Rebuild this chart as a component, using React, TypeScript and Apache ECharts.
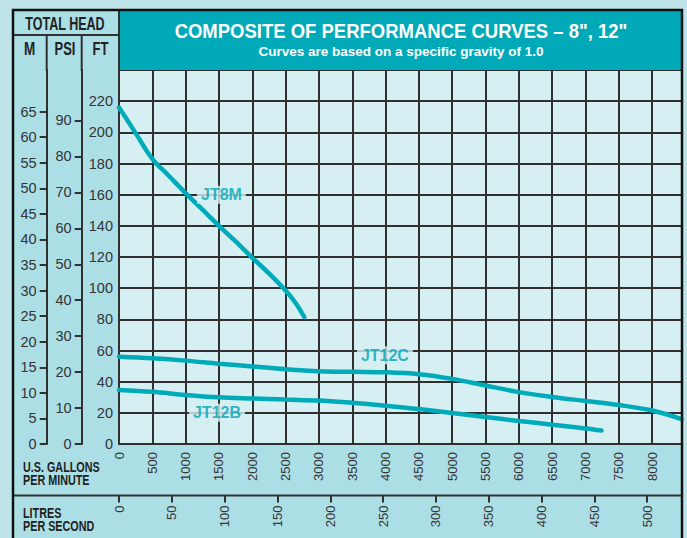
import React, { useEffect, useRef } from "react";
import * as echarts from "echarts";

// ---- data ----
const ftLabels = [0, 20, 40, 60, 80, 100, 120, 140, 160, 180, 200, 220];
const psiLabels = [0, 10, 20, 30, 40, 50, 60, 70, 80, 90];
const mLabels = [0, 5, 10, 15, 20, 25, 30, 35, 40, 45, 50, 55, 60, 65];
const gpmLabels = [0, 500, 1000, 1500, 2000, 2500, 3000, 3500, 4000, 4500, 5000, 5500, 6000, 6500, 7000, 7500, 8000];
const lpsLabels = [0, 50, 100, 150, 200, 250, 300, 350, 400, 450, 500];

const jt8m = [
  [0, 216], [250, 199.5], [500, 183], [750, 172], [1000, 161], [1250, 150.5],
  [1500, 140], [1750, 130], [2000, 119.5], [2250, 109.5], [2500, 98.5], [2650, 90.5], [2780, 81.5],
];
const jt12c = [
  [0, 56], [500, 55], [1000, 53.5], [1500, 51.5], [2000, 49.8], [2500, 48], [3000, 46.7],
  [3500, 46.3], [4000, 46], [4500, 44.8], [5000, 41.8], [5500, 37.5], [6000, 33.3],
  [6500, 30.2], [7000, 27.6], [7500, 25], [8000, 21.5], [8440, 16],
];
const jt12b = [
  [0, 34.7], [500, 33.5], [1000, 31.5], [1500, 30], [2000, 29.2], [2500, 28.5], [3000, 27.9],
  [3500, 26.4], [4000, 24.6], [4500, 22.4], [5000, 19.9], [5500, 17.3], [6000, 14.8],
  [6500, 12.4], [7000, 10], [7240, 8.7],
];
const curveNames = ["JT8M", "JT12C", "JT12B"];
const labelGpm = [1537, 3990, 1470];
const labelFt = [160, 57, 20];

const GPM_MAX = 8440;
const FT_MAX = 240;
const FT_PER_PSI = 2.30666;
const FT_PER_M = 3.28084;
const GPM_PER_LPS = 15.8503;

const SANS = '"Liberation Sans", Arial, sans-serif';
const TEAL = "#00a5b5";
const CURVE = "#00abb9";
const PLOT_BG = "#d6eff3";
const PANEL_BG = "#acdee6";
const PAGE_BG = "#bee4ea";
const INK = "#343434";
const GRIDC = "#303030";

function txt(text: string, x: number, y: number, size: number, sx: number, fill: string, align = "center", vAlign = "middle", lineHeight?: number) {
  return {
    type: "text", z: 30, x, y, scaleX: sx, scaleY: 1,
    style: { text, x: 0, y: 0, textAlign: align, textVerticalAlign: vAlign, font: `bold ${size}px ${SANS}`, fill, lineHeight },
  };
}

export default function App() {
  const ref = useRef<HTMLDivElement>(null);
  useEffect(() => {
    document.body.style.margin = "0";
    if (!ref.current) return;
    const chart = echarts.init(ref.current, null, { renderer: "svg" });
    const axisFont = { fontFamily: SANS, color: INK, formatter: (v: number) => String(v) };
    const option: any = {
      animation: false,
      backgroundColor: PAGE_BG,
      grid: {
        left: 119, top: 70, width: 562.5, height: 374,
        show: true, backgroundColor: PLOT_BG, borderWidth: 0,
      },
      graphic: [
        { type: "rect", z: -5, shape: { x: 13, y: 10, width: 106, height: 530 }, style: { fill: PANEL_BG } },
        { type: "rect", z: -5, shape: { x: 119, y: 444, width: 563, height: 96 }, style: { fill: PANEL_BG } },
        { type: "rect", z: 5, shape: { x: 119, y: 10, width: 563, height: 60 }, style: { fill: "#00a9b8" } },
        { type: "line", z: 20, shape: { x1: 13, y1: 35, x2: 119, y2: 35 }, style: { stroke: GRIDC, lineWidth: 2 } },
        { type: "line", z: 20, shape: { x1: 46.7, y1: 35, x2: 46.7, y2: 71 }, style: { stroke: GRIDC, lineWidth: 2 } },
        { type: "line", z: 20, shape: { x1: 81.7, y1: 35, x2: 81.7, y2: 71 }, style: { stroke: GRIDC, lineWidth: 2 } },
        { type: "line", z: 20, shape: { x1: 119, y1: 10, x2: 119, y2: 71 }, style: { stroke: GRIDC, lineWidth: 2 } },
        { type: "line", z: 20, shape: { x1: 13, y1: 495.5, x2: 682, y2: 495.5 }, style: { stroke: GRIDC, lineWidth: 2 } },
        { type: "rect", z: 30, shape: { x: 13, y: 10, width: 669, height: 540 }, style: { fill: "none", stroke: "#111", lineWidth: 2.5 } },
        txt("TOTAL HEAD", 65, 23, 19, 0.66, "#222"),
        txt("M", 29.5, 49, 18, 0.75, "#222"),
        txt("PSI", 65, 49, 18, 0.72, "#222"),
        txt("FT", 100.5, 49, 18, 0.72, "#222"),
        txt("COMPOSITE OF PERFORMANCE CURVES \u2013 8\", 12\"", 401, 31, 20, 0.925, "#ffffff"),
        txt("Curves are based on a specific gravity of 1.0", 401, 51.5, 13.5, 1, "#ffffff"),
        txt("U.S. GALLONS\nPER MINUTE", 23, 460, 15, 0.72, "#222", "left", "top", 13),
        txt("LITRES\nPER SECOND", 23, 506, 15, 0.72, "#222", "left", "top", 13),
      ],
      xAxis: [
        {
          type: "value", position: "bottom", min: 0, max: GPM_MAX, interval: 500,
          axisLine: { show: true, onZero: false, lineStyle: { color: GRIDC, width: 2 } },
          axisTick: { show: false },
          axisLabel: { ...axisFont, customValues: gpmLabels, rotate: 90, fontSize: 13, margin: 8 },
          splitLine: { show: true, lineStyle: { color: GRIDC, width: 2 } },
        },
        {
          type: "value", position: "bottom", offset: 51.5, min: 0, max: GPM_MAX / GPM_PER_LPS,
          axisLine: { show: false, onZero: false },
          axisTick: { show: true, length: 7, customValues: lpsLabels, lineStyle: { color: GRIDC, width: 2 } },
          axisLabel: { ...axisFont, customValues: lpsLabels, rotate: 90, fontSize: 13, margin: 10 },
          splitLine: { show: false },
        },
      ],
      yAxis: [
        {
          type: "value", position: "left", min: 0, max: FT_MAX, interval: 20,
          axisLine: { show: true, onZero: false, lineStyle: { color: GRIDC, width: 2 } },
          axisTick: { show: false },
          axisLabel: { ...axisFont, customValues: ftLabels, fontSize: 14.5, margin: 6 },
          splitLine: { show: true, lineStyle: { color: GRIDC, width: 2 } },
        },
        {
          type: "value", position: "left", offset: 37.3, min: 0, max: FT_MAX / FT_PER_PSI,
          axisLine: { show: true, onZero: false, lineStyle: { color: GRIDC, width: 2 } },
          axisTick: { show: true, length: 7, customValues: psiLabels, lineStyle: { color: GRIDC, width: 2 } },
          axisLabel: { ...axisFont, customValues: psiLabels, fontSize: 14.5, margin: 10 },
          splitLine: { show: false },
        },
        {
          type: "value", position: "left", offset: 72.3, min: 0, max: FT_MAX / FT_PER_M,
          axisLine: { show: true, onZero: false, lineStyle: { color: GRIDC, width: 2 } },
          axisTick: { show: true, length: 7, customValues: mLabels, lineStyle: { color: GRIDC, width: 2 } },
          axisLabel: { ...axisFont, customValues: mLabels, fontSize: 14.5, margin: 10 },
          splitLine: { show: false },
        },
      ],
      series: [
        ...[jt8m, jt12c, jt12b].map((d, i) => ({
          type: "line", name: curveNames[i], xAxisIndex: 0, yAxisIndex: 0,
          data: d, showSymbol: false, smooth: 0.35, z: 3,
          lineStyle: { color: CURVE, width: 4.5, cap: "round" },
        })),
        {
          type: "scatter", xAxisIndex: 0, yAxisIndex: 0, symbolSize: 1, z: 4,
          itemStyle: { color: "rgba(0,0,0,0)" },
          data: curveNames.map((n, i) => ({ value: [labelGpm[i], labelFt[i]], name: n })),
          label: {
            show: true, position: "inside", formatter: (p: any) => p.name,
            color: TEAL, fontWeight: "bold", fontSize: 16, fontFamily: SANS,
            backgroundColor: PLOT_BG, padding: [1, 4],
          },
        },
      ],
    };
    chart.setOption(option);
    return () => chart.dispose();
  }, []);
  return <div ref={ref} style={{ width: 687, height: 538 }} />;
}
